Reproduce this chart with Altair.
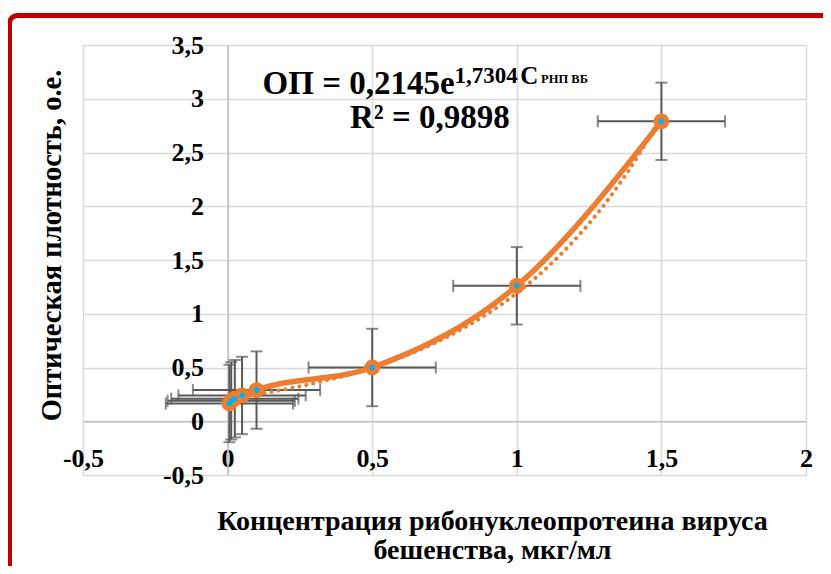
import altair as alt
import pandas as pd

# ---- data ----
conc = [0.00625, 0.0125, 0.025, 0.05, 0.1, 0.5, 1.0, 1.5]
od = [0.165, 0.19, 0.21, 0.24, 0.29, 0.50, 1.26, 2.79]
x_err = [0.22, 0.22, 0.22, 0.22, 0.22, 0.22, 0.22, 0.22]
y_err = [0.36, 0.36, 0.36, 0.36, 0.36, 0.36, 0.36, 0.36]
x_ticks = [-0.5, 0, 0.5, 1, 1.5, 2]
y_ticks = [-0.5, 0, 0.5, 1, 1.5, 2, 2.5, 3, 3.5]

eq_main = "ОП = 0,2145e"
eq_exp = "1,7304"
eq_c = "C"
eq_sub = "РНП ВБ"
r2_text = "R² = 0,9898"
x_title = ["Концентрация рибонуклеопротеина вируса", "бешенства, мкг/мл"]
y_title = "Оптическая плотность, о.е."

df = pd.DataFrame({"x": conc, "y": od, "ex": x_err, "ey": y_err})
df["xlo"] = df["x"] - df["ex"]
df["xhi"] = df["x"] + df["ex"]
df["ylo"] = df["y"] - df["ey"]
df["yhi"] = df["y"] + df["ey"]

W, H = 723, 430
FONT = "Liberation Serif"
ORANGE = "#ed7d31"
BLUE = "#00b0f0"
GREY = "#595959"

xs = alt.Scale(domain=[-0.5, 2], nice=False, zero=False)
ys = alt.Scale(domain=[-0.5, 3.5], nice=False, zero=False)
lab = "replace(toString(datum.value), '.', ',')"

x_off = -(H - H * 3.5 / 4)   # axis crosses at y = 0
y_off = -(W * 0.5 / 2.5)     # axis crosses at x = 0

x_axis = alt.Axis(
    values=x_ticks, labelExpr=lab, offset=x_off, ticks=False,
    grid=True, gridColor="#d9d9d9", gridWidth=1.5,
    domainColor="#bfbfbf", domainWidth=1.5,
    labelPadding=24, labelFlush=False, labelOverlap=False, labelBound=False,
    labelFont=FONT, labelFontSize=26, labelFontWeight="bold", labelColor="black",
    title=x_title, titleFont=FONT, titleFontSize=28, titleFontWeight="bold",
    titleColor="black", titleX=409, titleY=86, titleAlign="center",
    titleBaseline="top", titleLineHeight=29, titleAnchor="start",
)
y_axis = alt.Axis(
    values=y_ticks, labelExpr=lab, offset=y_off, ticks=False,
    grid=True, gridColor="#d9d9d9", gridWidth=1.5,
    domainColor="#bfbfbf", domainWidth=1.5,
    labelPadding=24, labelFlush=False, labelOverlap=False, labelBound=False,
    labelFont=FONT, labelFontSize=26, labelFontWeight="bold", labelColor="black",
    title=y_title, titleFont=FONT, titleFontSize=28.5, titleFontWeight="bold",
    titleColor="black", titleX=-32 + y_off, titleY=200, titleAngle=270,
    titleAlign="center", titleBaseline="middle", titleAnchor="start",
)

def X(f):
    return alt.X(f, scale=xs, axis=x_axis)

def Y(f):
    return alt.Y(f, scale=ys, axis=y_axis)

base = alt.Chart(df)

# vertical error bars
vbar = base.mark_rule(color=GREY, strokeWidth=2).encode(x=X("x:Q"), y=Y("ylo:Q"), y2="yhi:Q")
vcap_lo = base.mark_tick(color=GREY, orient="horizontal", size=12, thickness=2).encode(
    x=X("x:Q"), y=Y("ylo:Q"))
vcap_hi = base.mark_tick(color=GREY, orient="horizontal", size=12, thickness=2).encode(
    x=X("x:Q"), y=Y("yhi:Q"))
# horizontal error bars
hbar = base.mark_rule(color=GREY, strokeWidth=2).encode(x=X("xlo:Q"), x2="xhi:Q", y=Y("y:Q"))
hcap_lo = base.mark_tick(color=GREY, orient="vertical", size=12, thickness=2).encode(
    x=X("xlo:Q"), y=Y("y:Q"))
hcap_hi = base.mark_tick(color=GREY, orient="vertical", size=12, thickness=2).encode(
    x=X("xhi:Q"), y=Y("y:Q"))

# exponential trendline (computed by Vega's regression)
trend = base.transform_regression(
    "x", "y", method="exp", extent=[conc[0], conc[-1]]
).mark_line(color=ORANGE, strokeWidth=4, strokeDash=[0.1, 7], strokeCap="round").encode(
    x=X("x:Q"), y=Y("y:Q"))

line = base.mark_line(color=ORANGE, strokeWidth=5.5, interpolate="monotone").encode(
    x=X("x:Q"), y=Y("y:Q"), order="x:Q")
pts = base.mark_circle(color=ORANGE, size=250, opacity=1).encode(x=X("x:Q"), y=Y("y:Q"))
dots = base.mark_circle(color=BLUE, size=30, opacity=1).encode(x=X("x:Q"), y=Y("y:Q"))

def txt(s, xv, yv, size, align):
    return alt.Chart(pd.DataFrame({"t": [s]})).mark_text(
        font=FONT, fontWeight="bold", fontSize=size, color="black",
        align=align, baseline="alphabetic",
    ).encode(
        x=alt.X(datum=xv, scale=xs, axis=x_axis),
        y=alt.Y(datum=yv, scale=ys, axis=y_axis),
        text="t:N",
    )

ann = [
    txt(eq_main, 0.785, 3.04, 33, "right"),
    txt(eq_exp, 0.785, 3.144, 23, "left"),
    txt(eq_c, 1.012, 3.137, 25, "left"),
    txt(eq_sub, 1.084, 3.144, 12.5, "left"),
    txt(r2_text, 0.423, 2.725, 33, "left"),
]

frame = alt.Chart(pd.DataFrame({"a": [0]})).mark_rect(
    fillOpacity=0, stroke="#c00000", strokeWidth=5, cornerRadius=8
).encode(
    x=alt.value(-73.5), x2=alt.value(900), y=alt.value(-29.5), y2=alt.value(700)
)

chart = alt.layer(
    vbar, hbar, vcap_lo, vcap_hi, hcap_lo, hcap_hi, trend, line, pts, dots,
    *ann, frame,
).properties(
    width=W, height=H,
    autosize=alt.AutoSizeParams(type="none"),
    padding={"left": 75, "top": 37, "right": 17, "bottom": 91},
).configure_view(stroke="#d9d9d9", strokeWidth=1.5).configure(background="white")

chart.save("out.html", embed_options={"renderer": "svg", "actions": False})
